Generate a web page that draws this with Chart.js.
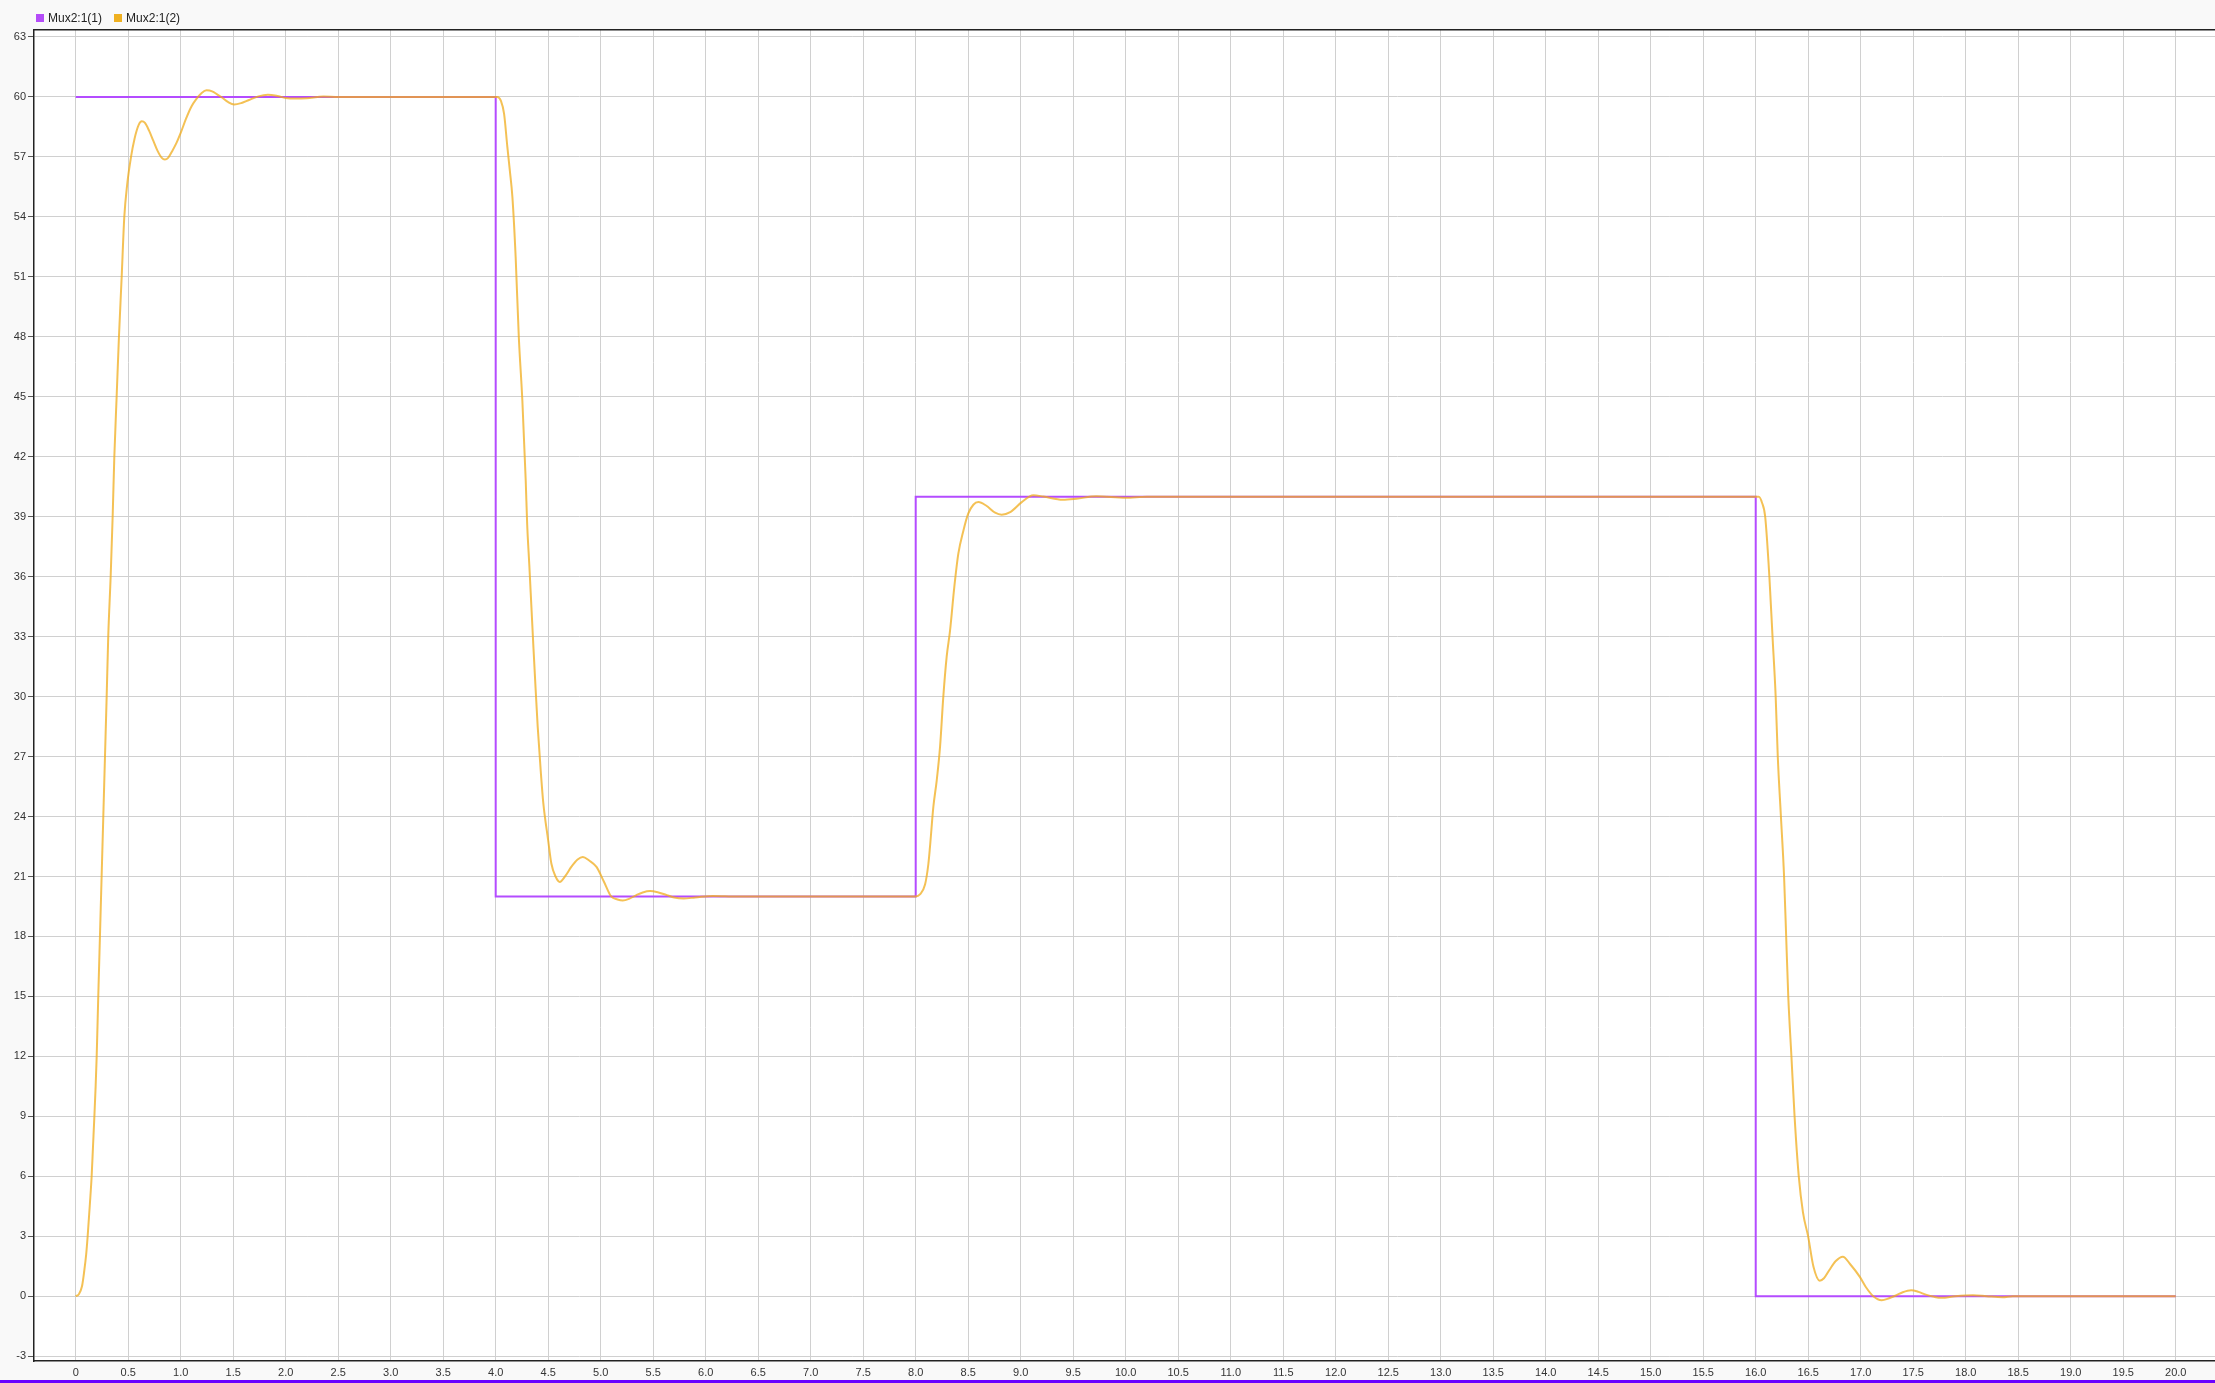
<!DOCTYPE html>
<html>
<head>
<meta charset="utf-8">
<script src="https://cdn.jsdelivr.net/npm/chart.js@4.4.1/dist/chart.umd.min.js"></script>
<style>
  html, body { margin: 0; padding: 0; background: #f9f9f9; overflow: hidden; }
  #wrap { position: relative; width: 2215px; height: 1383px; }
  #legend { position: absolute; left: 36px; top: 11px; font: 12px "Liberation Sans", Arial, sans-serif; color: #222; display: flex; align-items: center; }
  .item { display: flex; align-items: center; margin-right: 12px; }
  .sw { width: 8px; height: 8px; margin-right: 4px; }
  #chart { position: absolute; left: 0; top: 0; }
  #stripe { position: absolute; left: 0; top: 1380px; width: 2215px; height: 3px; background: #6a00ff; }
</style>
</head>
<body>
<div id="wrap">
  <canvas id="chart" width="2215" height="1380"></canvas>
  <div id="legend"></div>
  <div id="stripe"></div>
</div>
<script>
// ---- data ----
const seriesNames = ["Mux2:1(1)", "Mux2:1(2)"];
const seriesColors = ["#b44cff", "rgba(240,172,28,0.75)"];
const legendColors = ["#b44cf8", "#efb020"];

// Setpoint (Mux2:1(1))
const setpointTime  = [0, 4, 4, 8, 8, 16, 16, 20];
const setpointValue = [60, 60, 20, 20, 40, 40, 0, 0];

// Response (Mux2:1(2))
const responseTime = [
  0, 0.03, 0.06, 0.08, 0.1, 0.114, 0.135, 0.152, 0.165, 0.178, 0.19, 0.2, 0.215, 0.231, 0.247, 0.263,
  0.279, 0.295, 0.31, 0.333, 0.352, 0.368, 0.39, 0.412, 0.438, 0.463, 0.49, 0.527, 0.56, 0.6, 0.63, 0.66,
  0.7, 0.74, 0.78, 0.82, 0.85, 0.88, 0.92, 0.96, 1.0, 1.05, 1.1, 1.15, 1.2, 1.247, 1.3, 1.35, 1.4, 1.45,
  1.51, 1.58, 1.65, 1.74, 1.83, 1.92, 2.0, 2.1, 2.2, 2.36, 2.5, 2.7, 3.0,
  4.0, 4.016, 4.05, 4.08, 4.111, 4.135, 4.159, 4.19, 4.22, 4.254, 4.286, 4.3, 4.32, 4.34, 4.36, 4.38, 4.4,
  4.43, 4.453, 4.5, 4.53, 4.57, 4.61, 4.66, 4.72, 4.78, 4.83, 4.89, 4.96, 5.03, 5.1, 5.16, 5.21, 5.27,
  5.34, 5.4, 5.47, 5.55, 5.63, 5.7, 5.79, 5.9, 6.07, 6.3,
  8.0, 8.04, 8.089, 8.12, 8.136, 8.168, 8.2, 8.232, 8.263, 8.295, 8.327, 8.368, 8.406, 8.454, 8.5, 8.549,
  8.597, 8.67, 8.756, 8.819, 8.9, 9.01, 9.12, 9.215, 9.4, 9.53, 9.72, 10.0, 10.2,
  16.0, 16.03, 16.06, 16.09, 16.13, 16.16, 16.19, 16.21, 16.24, 16.27, 16.29, 16.31, 16.34, 16.37, 16.41,
  16.45, 16.5, 16.55, 16.61, 16.65, 16.7, 16.76, 16.83, 16.9, 16.99, 17.05, 17.12, 17.2, 17.27, 17.34,
  17.4, 17.48, 17.55, 17.62, 17.7, 17.77, 17.9, 18.07, 18.2, 18.35, 18.45, 20.0
];
const responseValue = [
  0, 0.1, 0.5, 1.2, 2.1, 3, 4.6, 6, 7.5, 9, 10.5, 12, 15, 18, 21, 24,
  27, 30, 33, 36, 39, 42, 45, 48, 51, 54, 55.6, 57, 57.9, 58.6, 58.78, 58.7,
  58.3, 57.8, 57.3, 56.95, 56.87, 56.95, 57.3, 57.7, 58.2, 58.9, 59.5, 59.9, 60.2, 60.33, 60.28, 60.12, 59.95, 59.75,
  59.62, 59.7, 59.85, 60.03, 60.11, 60.05, 59.95, 59.92, 59.94, 60.02, 60.0, 60.0, 60.0,
  60.0, 60.0, 59.8, 59.15, 57.5, 56.3, 55, 52, 48, 44.8, 40.8, 38.6, 36.6, 34.5, 32.4, 30.4, 28.5,
  26.2, 24.7, 22.8, 21.65, 21.0, 20.73, 21.0, 21.48, 21.85, 21.98, 21.8, 21.48, 20.75, 20.0, 19.85, 19.8, 19.88,
  20.07, 20.2, 20.27, 20.2, 20.07, 19.95, 19.9, 19.95, 20.03, 20.0,
  20.0, 20.1, 20.6, 21.6, 22.48, 24.48, 25.8, 27.5, 30.0, 32.0, 33.3, 35.5, 37.15, 38.3, 39.15, 39.6,
  39.73, 39.56, 39.2, 39.1, 39.23, 39.73, 40.07, 40.01, 39.85, 39.9, 40.02, 39.95, 40.0,
  40.0, 40.0, 39.7, 39.0, 36.0, 33.0, 30.0, 27.0, 24.0, 21.0, 18.0, 15.0, 12.0, 9.0, 6.0,
  4.2, 2.97, 1.48, 0.78, 0.9, 1.3, 1.75, 1.98, 1.6, 0.98, 0.45, 0.0, -0.2, -0.1, 0.05,
  0.2, 0.3, 0.22, 0.08, -0.03, -0.08, 0.0, 0.05, 0.0, -0.05, 0.0, 0.0
];

const xTicks = [0, 0.5, 1.0, 1.5, 2.0, 2.5, 3.0, 3.5, 4.0, 4.5, 5.0, 5.5, 6.0, 6.5, 7.0, 7.5, 8.0, 8.5, 9.0, 9.5,
  10.0, 10.5, 11.0, 11.5, 12.0, 12.5, 13.0, 13.5, 14.0, 14.5, 15.0, 15.5, 16.0, 16.5, 17.0, 17.5, 18.0, 18.5, 19.0, 19.5, 20.0];
const yTicks = [-3, 0, 3, 6, 9, 12, 15, 18, 21, 24, 27, 30, 33, 36, 39, 42, 45, 48, 51, 54, 57, 60, 63];
const xRange = [-0.397, 20.374];
const yRange = [-3.24, 63.35];

// ---- legend (HTML) ----
const legendEl = document.getElementById('legend');
seriesNames.forEach((n, i) => {
  const it = document.createElement('div'); it.className = 'item';
  const sw = document.createElement('div'); sw.className = 'sw'; sw.style.background = legendColors[i];
  const tx = document.createElement('span'); tx.textContent = n;
  it.appendChild(sw); it.appendChild(tx); legendEl.appendChild(it);
});

const toXY = (ts, vs) => ts.map((t, i) => ({ x: t, y: vs[i] }));

const plotBg = {
  id: 'plotBg',
  beforeDraw(chart) {
    const { ctx, chartArea: a } = chart;
    ctx.save();
    ctx.fillStyle = '#ffffff';
    ctx.fillRect(a.left, a.top, a.right - a.left, a.bottom - a.top);
    ctx.restore();
  }
};

const tickFont = { family: '"Liberation Sans", Arial, sans-serif', size: 11 };

new Chart(document.getElementById('chart'), {
  type: 'line',
  data: {
    datasets: [
      {
        label: seriesNames[0],
        data: toXY(setpointTime, setpointValue),
        borderColor: seriesColors[0],
        backgroundColor: seriesColors[0],
        borderWidth: 2,
        pointRadius: 0,
        tension: 0,
        order: 1
      },
      {
        label: seriesNames[1],
        data: toXY(responseTime, responseValue),
        borderColor: seriesColors[1],
        backgroundColor: seriesColors[1],
        borderWidth: 2,
        pointRadius: 0,
        cubicInterpolationMode: 'monotone',
        order: 0
      }
    ]
  },
  options: {
    responsive: false,
    animation: false,
    devicePixelRatio: 1,
    layout: { padding: { top: 30, left: 0, right: 0, bottom: 0 } },
    plugins: { legend: { display: false }, tooltip: { enabled: false } },
    scales: {
      x: {
        type: 'linear',
        position: 'bottom',
        min: xRange[0], max: xRange[1],
        afterBuildTicks: (s) => { s.ticks = xTicks.map(v => ({ value: v })); },
        afterFit: (s) => { s.height = 19; },
        ticks: {
          font: tickFont, color: '#333', padding: 5, maxRotation: 0, autoSkip: false,
          callback: (v) => v === 0 ? '0' : Number(v).toFixed(1)
        },
        grid: { color: '#d0d0d0', lineWidth: 1, drawTicks: false },
        border: { color: '#222', width: 1.5 }
      },
      xTop: {
        type: 'linear',
        position: 'top',
        min: xRange[0], max: xRange[1],
        afterFit: (s) => { s.height = 0; },
        ticks: { display: false },
        grid: { display: false, drawTicks: false },
        border: { color: '#222', width: 1.5 }
      },
      y: {
        type: 'linear',
        min: yRange[0], max: yRange[1],
        afterBuildTicks: (s) => { s.ticks = yTicks.map(v => ({ value: v })); },
        afterFit: (s) => { s.width = 34; },
        ticks: { font: tickFont, color: '#333', padding: 2, autoSkip: false },
        grid: { color: '#d0d0d0', lineWidth: 1, tickLength: 6, tickColor: '#555' },
        border: { color: '#222', width: 1.5 }
      }
    }
  },
  plugins: [plotBg]
});
</script>
</body>
</html>
